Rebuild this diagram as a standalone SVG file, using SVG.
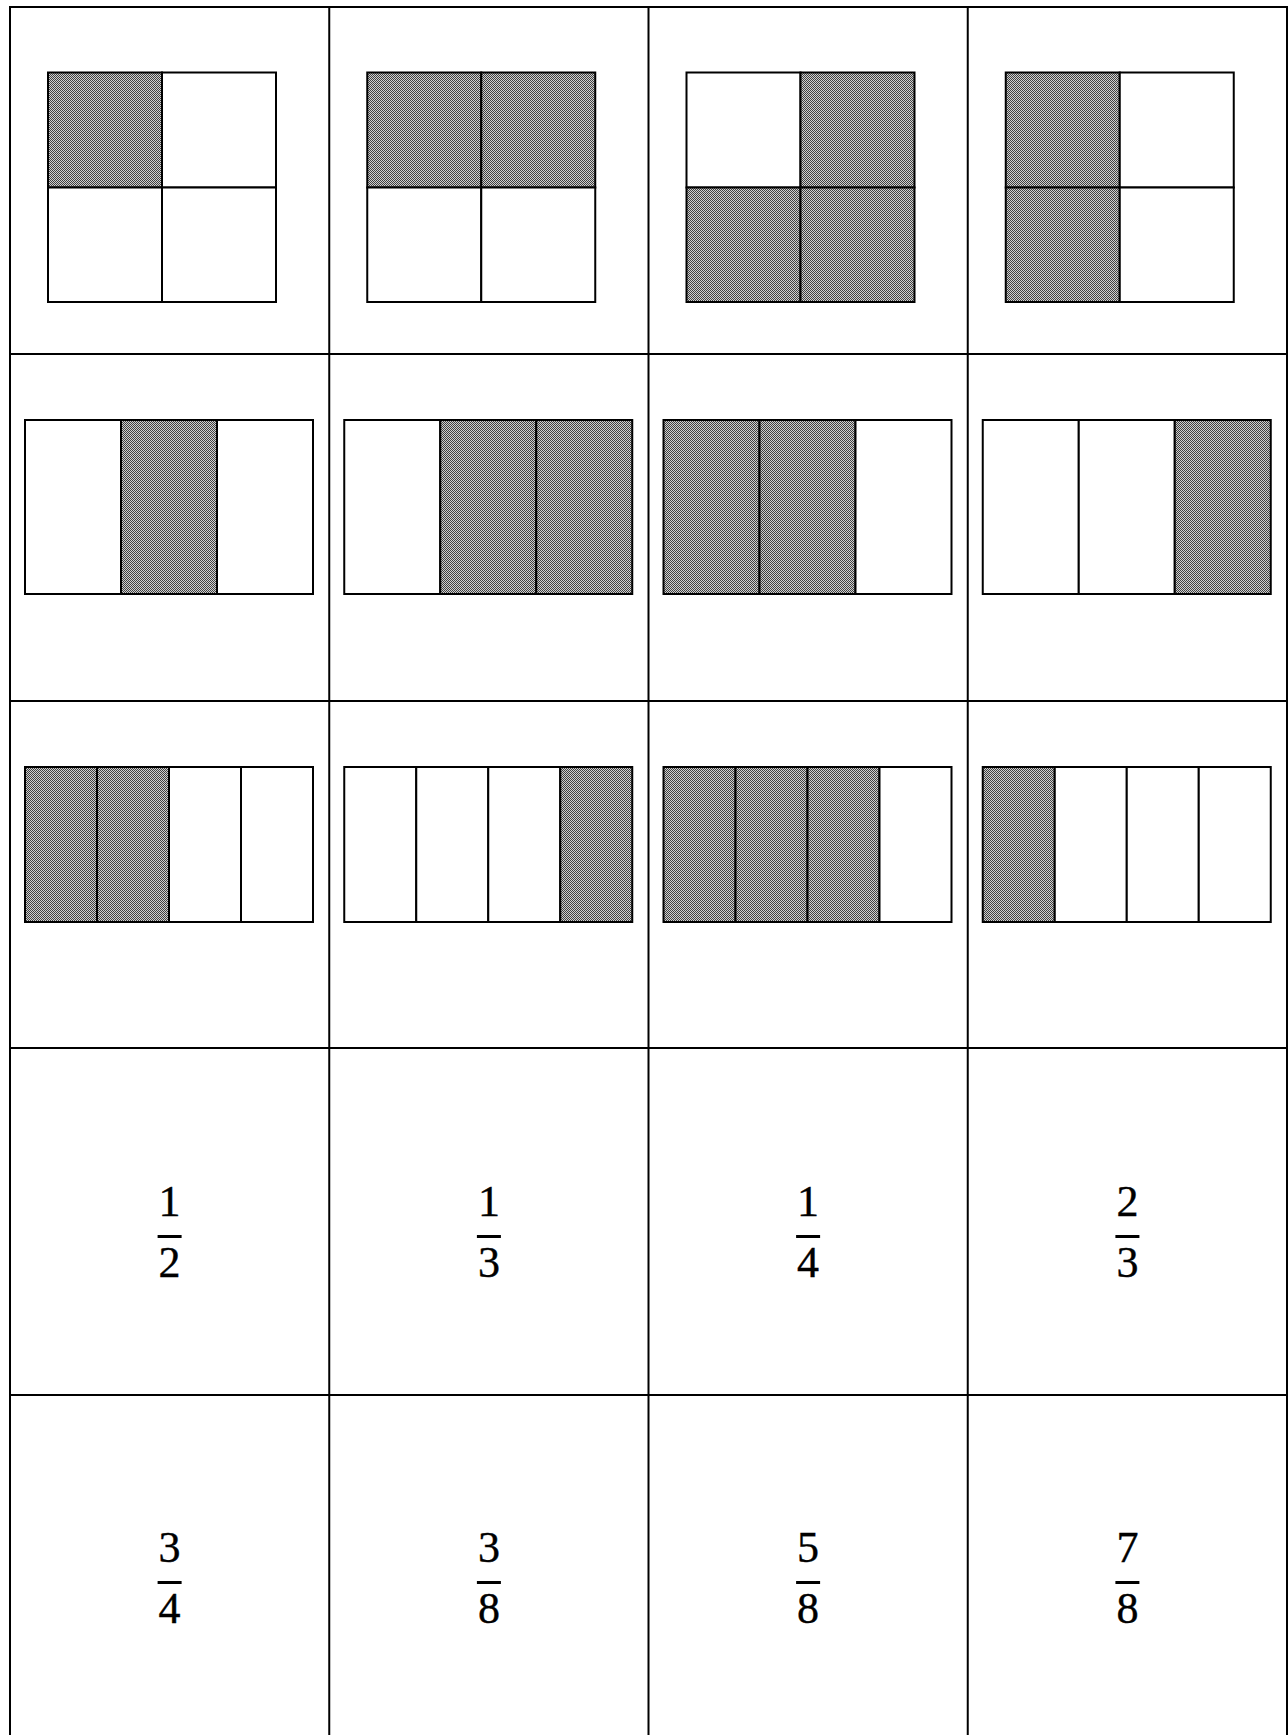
<svg xmlns="http://www.w3.org/2000/svg" width="1288" height="1735" viewBox="0 0 1288 1735">
<style>
.grid{stroke:#000;stroke-width:2;fill:none}
.cell{stroke:#000;stroke-width:2;fill:#fff}
.sh{stroke:#000;stroke-width:2;fill:url(#dots)}
.num{font-family:"Liberation Serif","DejaVu Serif",serif;font-size:44px;fill:#000;stroke:#000;stroke-width:0.4;text-anchor:middle}
.bar{fill:#000}
</style>
<defs>
<pattern id="dots" width="2" height="2" patternUnits="userSpaceOnUse">
<rect width="2" height="2" fill="#cfcfcf"/>
<rect width="1" height="1" fill="#404040"/>
<rect x="1" y="1" width="1" height="1" fill="#404040"/>
</pattern>
</defs>
<rect width="1288" height="1735" fill="#fff"/>
<g id="table">
<line class="grid" x1="10" y1="7" x2="10" y2="1735"/>
<line class="grid" x1="329.25" y1="7" x2="329.25" y2="1735"/>
<line class="grid" x1="648.5" y1="7" x2="648.5" y2="1735"/>
<line class="grid" x1="967.75" y1="7" x2="967.75" y2="1735"/>
<line class="grid" x1="1287" y1="7" x2="1287" y2="1735"/>
<line class="grid" x1="9" y1="7" x2="1288" y2="7"/>
<line class="grid" x1="10" y1="354" x2="1287" y2="354"/>
<line class="grid" x1="10" y1="701" x2="1287" y2="701"/>
<line class="grid" x1="10" y1="1048" x2="1287" y2="1048"/>
<line class="grid" x1="10" y1="1395" x2="1287" y2="1395"/>
</g>
<!-- Row 1: quarters of a square -->
<g id="r1c1">
<rect class="sh" x="48" y="72.5" width="114" height="115"/>
<rect class="cell" x="162" y="72.5" width="114" height="115"/>
<rect class="cell" x="48" y="187.5" width="114" height="114.5"/>
<rect class="cell" x="162" y="187.5" width="114" height="114.5"/>
</g>
<g id="r1c2">
<rect class="sh" x="367.25" y="72.5" width="114" height="115"/>
<rect class="sh" x="481.25" y="72.5" width="114" height="115"/>
<rect class="cell" x="367.25" y="187.5" width="114" height="114.5"/>
<rect class="cell" x="481.25" y="187.5" width="114" height="114.5"/>
</g>
<g id="r1c3">
<rect class="cell" x="686.5" y="72.5" width="114" height="115"/>
<rect class="sh" x="800.5" y="72.5" width="114" height="115"/>
<rect class="sh" x="686.5" y="187.5" width="114" height="114.5"/>
<rect class="sh" x="800.5" y="187.5" width="114" height="114.5"/>
</g>
<g id="r1c4">
<rect class="sh" x="1005.75" y="72.5" width="114" height="115"/>
<rect class="cell" x="1119.75" y="72.5" width="114" height="115"/>
<rect class="sh" x="1005.75" y="187.5" width="114" height="114.5"/>
<rect class="cell" x="1119.75" y="187.5" width="114" height="114.5"/>
</g>
<!-- Row 2: thirds -->
<g id="r2c1">
<rect class="cell" x="25" y="420" width="96" height="174"/>
<rect class="sh" x="121" y="420" width="96" height="174"/>
<rect class="cell" x="217" y="420" width="96" height="174"/>
</g>
<g id="r2c2">
<rect class="cell" x="344.25" y="420" width="96" height="174"/>
<rect class="sh" x="440.25" y="420" width="96" height="174"/>
<rect class="sh" x="536.25" y="420" width="96" height="174"/>
</g>
<g id="r2c3">
<rect class="sh" x="663.5" y="420" width="96" height="174"/>
<rect class="sh" x="759.5" y="420" width="96" height="174"/>
<rect class="cell" x="855.5" y="420" width="96" height="174"/>
</g>
<g id="r2c4">
<rect class="cell" x="982.75" y="420" width="96" height="174"/>
<rect class="cell" x="1078.75" y="420" width="96" height="174"/>
<rect class="sh" x="1174.75" y="420" width="96" height="174"/>
</g>
<!-- Row 3: quarters -->
<g id="r3c1">
<rect class="sh" x="25" y="767" width="72" height="155"/>
<rect class="sh" x="97" y="767" width="72" height="155"/>
<rect class="cell" x="169" y="767" width="72" height="155"/>
<rect class="cell" x="241" y="767" width="72" height="155"/>
</g>
<g id="r3c2">
<rect class="cell" x="344.25" y="767" width="72" height="155"/>
<rect class="cell" x="416.25" y="767" width="72" height="155"/>
<rect class="cell" x="488.25" y="767" width="72" height="155"/>
<rect class="sh" x="560.25" y="767" width="72" height="155"/>
</g>
<g id="r3c3">
<rect class="sh" x="663.5" y="767" width="72" height="155"/>
<rect class="sh" x="735.5" y="767" width="72" height="155"/>
<rect class="sh" x="807.5" y="767" width="72" height="155"/>
<rect class="cell" x="879.5" y="767" width="72" height="155"/>
</g>
<g id="r3c4">
<rect class="sh" x="982.75" y="767" width="72" height="155"/>
<rect class="cell" x="1054.75" y="767" width="72" height="155"/>
<rect class="cell" x="1126.75" y="767" width="72" height="155"/>
<rect class="cell" x="1198.75" y="767" width="72" height="155"/>
</g>
<!-- Row 4: fractions -->
<g id="f1"><text class="num" x="169.6" y="1216">1</text><rect class="bar" x="157.6" y="1235" width="24" height="3"/><text class="num" x="169.6" y="1277">2</text></g>
<g id="f2"><text class="num" x="488.9" y="1216">1</text><rect class="bar" x="476.9" y="1235" width="24" height="3"/><text class="num" x="488.9" y="1277">3</text></g>
<g id="f3"><text class="num" x="808.1" y="1216">1</text><rect class="bar" x="796.1" y="1235" width="24" height="3"/><text class="num" x="808.1" y="1277">4</text></g>
<g id="f4"><text class="num" x="1127.4" y="1216">2</text><rect class="bar" x="1115.4" y="1235" width="24" height="3"/><text class="num" x="1127.4" y="1277">3</text></g>
<!-- Row 5: fractions -->
<g id="f5"><text class="num" x="169.6" y="1562">3</text><rect class="bar" x="157.6" y="1581" width="24" height="3"/><text class="num" x="169.6" y="1623">4</text></g>
<g id="f6"><text class="num" x="488.9" y="1562">3</text><rect class="bar" x="476.9" y="1581" width="24" height="3"/><text class="num" x="488.9" y="1623">8</text></g>
<g id="f7"><text class="num" x="808.1" y="1562">5</text><rect class="bar" x="796.1" y="1581" width="24" height="3"/><text class="num" x="808.1" y="1623">8</text></g>
<g id="f8"><text class="num" x="1127.4" y="1562">7</text><rect class="bar" x="1115.4" y="1581" width="24" height="3"/><text class="num" x="1127.4" y="1623">8</text></g>
</svg>
